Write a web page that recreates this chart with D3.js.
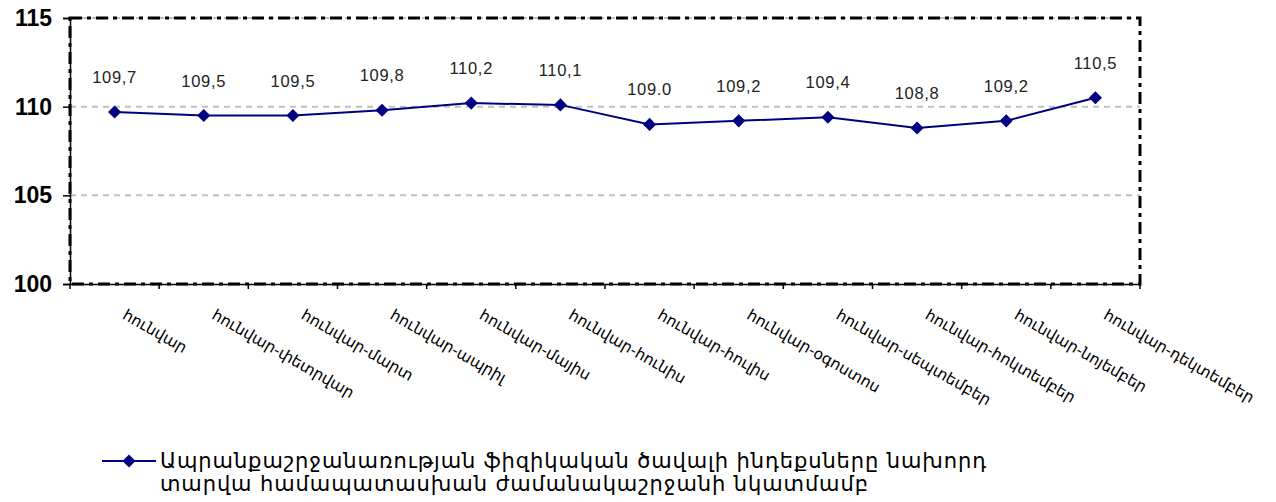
<!DOCTYPE html>
<html>
<head>
<meta charset="utf-8">
<script src="https://cdn.jsdelivr.net/npm/d3@7"></script>
<style>
  body { margin: 0; background: #fff; }
  svg { display: block; }
</style>
</head>
<body>
<script>
var width = 1276;
var height = 502;

var months = ["հունվար", "հունվար-փետրվար", "հունվար-մարտ", "հունվար-ապրիլ",
  "հունվար-մայիս", "հունվար-հունիս", "հունվար-հուլիս", "հունվար-օգոստոս",
  "հունվար-սեպտեմբեր", "հունվար-հոկտեմբեր", "հունվար-նոյեմբեր", "հունվար-դեկտեմբեր"];
var values = [109.7, 109.5, 109.5, 109.8, 110.2, 110.1, 109.0, 109.2, 109.4, 108.8, 109.2, 110.5];
var valueLabels = ["109,7", "109,5", "109,5", "109,8", "110,2", "110,1", "109.0", "109,2", "109,4", "108,8", "109,2", "110,5"];
var yTicks = [100, 105, 110, 115];
var legendLines = ["Ապրանքաշրջանառության ֆիզիկական ծավալի ինդեքսները նախորդ",
  "տարվա համապատասխան ժամանակաշրջանի նկատմամբ"];

var plotLeft = 70, plotRight = 1140, plotTop = 18, plotBottom = 284;
var navy = "#000080";
var armFont = "'DejaVu Sans', sans-serif";

var svg = d3.select("body").append("svg")
    .attr("width", width)
    .attr("height", height);

var x = d3.scaleBand().domain(months).range([plotLeft, plotRight]).padding(0);
var y = d3.scaleLinear().domain([100, 115]).range([plotBottom, plotTop]);
var cx = function(d) { return x(d) + x.bandwidth() / 2; };

// gridlines
svg.append("g").selectAll("line")
  .data(yTicks.filter(function(t) { return t > 100; }))
.enter().append("line")
  .attr("x1", plotLeft).attr("x2", plotRight)
  .attr("y1", function(d) { return y(d); })
  .attr("y2", function(d) { return y(d); })
  .attr("stroke", "#c0c0c0")
  .attr("stroke-width", 2)
  .attr("stroke-dasharray", "6,5");

// y axis
var yAxis = svg.append("g")
  .attr("transform", "translate(" + plotLeft + ",0)")
  .call(d3.axisLeft(y).tickValues(yTicks).tickSize(7).tickFormat(d3.format("d")));
yAxis.select(".domain").attr("stroke", "#000").attr("stroke-width", 1.5);
yAxis.selectAll(".tick line").attr("stroke", "#000").attr("stroke-width", 1.5);
yAxis.selectAll("text")
  .attr("x", -18)
  .attr("font-family", "'Liberation Sans', Arial, sans-serif")
  .attr("font-weight", "bold")
  .attr("font-size", 23)
  .attr("fill", "#000");

// x axis
var xAxis = svg.append("g")
  .attr("transform", "translate(0," + plotBottom + ")")
  .call(d3.axisBottom(x).tickSize(0).tickFormat(""));
xAxis.select(".domain").attr("stroke", "#000").attr("stroke-width", 1.5);
svg.append("g").selectAll("line")
  .data(months.concat(["end"]))
.enter().append("line")
  .attr("x1", function(d, i) { return i < months.length ? x(d) : plotRight; })
  .attr("x2", function(d, i) { return i < months.length ? x(d) : plotRight; })
  .attr("y1", plotBottom).attr("y2", plotBottom + 5)
  .attr("stroke", "#000").attr("stroke-width", 1.5);

svg.append("g").selectAll("text")
  .data(months)
.enter().append("text")
  .attr("transform", function(d) { return "translate(" + (cx(d) + 7) + "," + (plotBottom + 34) + ") rotate(30)"; })
  .attr("font-family", armFont)
  .attr("font-size", 15.5)
  .attr("fill", "#000")
  .text(function(d) { return d; });

// dash-dot plot border
svg.append("rect")
  .attr("x", plotLeft).attr("y", plotTop)
  .attr("width", plotRight - plotLeft).attr("height", plotBottom - plotTop)
  .attr("fill", "none")
  .attr("stroke", "#000")
  .attr("stroke-width", 3)
  .attr("stroke-dasharray", "12,5,4,5");

// series line
var line = d3.line()
  .x(function(d, i) { return cx(months[i]); })
  .y(function(d) { return y(d); });

svg.append("path")
  .attr("d", line(values))
  .attr("fill", "none")
  .attr("stroke", navy)
  .attr("stroke-width", 2);

var diamond = d3.symbol().type(d3.symbolDiamond2).size(110);

svg.append("g").selectAll("path")
  .data(values)
.enter().append("path")
  .attr("d", diamond)
  .attr("transform", function(d, i) { return "translate(" + cx(months[i]) + "," + y(d) + ")"; })
  .attr("fill", navy);

svg.append("g").selectAll("text")
  .data(values)
.enter().append("text")
  .attr("x", function(d, i) { return cx(months[i]); })
  .attr("y", function(d) { return y(d) - 29; })
  .attr("text-anchor", "middle")
  .attr("font-family", "'Liberation Sans', Arial, sans-serif")
  .attr("font-size", 16.5)
  .attr("letter-spacing", 0.7)
  .attr("fill", "#222")
  .text(function(d, i) { return valueLabels[i]; });

// legend
var legend = svg.append("g").attr("transform", "translate(102,461)");
legend.append("line")
  .attr("x1", 0).attr("x2", 54)
  .attr("stroke", navy).attr("stroke-width", 2);
legend.append("path")
  .attr("d", diamond)
  .attr("transform", "translate(27,0)")
  .attr("fill", navy);
legend.selectAll("text")
  .data(legendLines)
.enter().append("text")
  .attr("x", 58)
  .attr("y", function(d, i) { return 7 + i * 23; })
  .attr("font-family", armFont)
  .attr("font-size", 21)
  .attr("letter-spacing", 0.9)
  .attr("fill", "#000")
  .text(function(d) { return d; });
</script>
</body>
</html>
